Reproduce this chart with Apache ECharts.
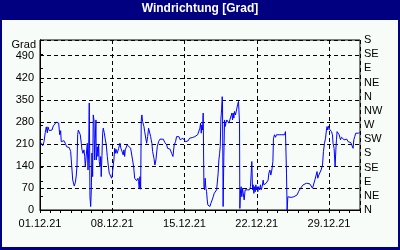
<!DOCTYPE html>
<html><head><meta charset="utf-8">
<script src="https://cdn.jsdelivr.net/npm/echarts@6/dist/echarts.min.js"></script>
<style>html,body{margin:0;padding:0;background:#f8fcf8}#c{width:400px;height:250px}</style>
</head><body><div id="c"></div>
<script>
const titleText = 'Windrichtung [Grad]';
const yAxisName = 'Grad';
const weekLabels = ['01.12.21','08.12.21','15.12.21','22.12.21','29.12.21'];
const compassLabels = ['N','NE','E','SE','S','SW','W','NW','N','NE','E','SE','S'];
// time in days since 01.12.21 00:00
const dayOffsets = [
0.07,0.26,0.39,0.51,0.61,0.71,0.77,0.90,1.04,1.16,
1.29,1.42,1.58,1.67,1.81,1.91,2.00,2.06,2.20,2.32,
2.45,2.58,2.71,2.84,2.97,3.03,3.10,3.17,3.22,3.32,
3.42,3.51,3.58,3.65,3.71,3.80,3.90,4.00,4.07,4.16,
4.26,4.33,4.39,4.48,4.58,4.65,4.71,4.77,4.81,4.84,
4.91,4.97,5.03,5.10,5.16,5.23,5.29,5.35,5.42,5.45,
5.55,5.61,5.68,5.74,5.81,5.88,5.93,6.00,6.07,6.13,
6.22,6.32,6.42,6.52,6.61,6.71,6.84,6.94,7.00,7.10,
7.16,7.23,7.29,7.36,7.48,7.62,7.74,7.84,7.94,8.06,
8.13,8.20,8.26,8.33,8.45,8.55,8.64,8.78,8.91,8.97,
9.07,9.17,9.26,9.36,9.49,9.55,9.61,9.68,9.75,9.81,
9.87,9.94,10.00,10.07,10.14,10.23,10.33,10.43,10.52,10.62,
10.72,10.77,10.84,10.91,11.04,11.13,11.23,11.36,11.49,11.62,
11.78,11.94,12.10,12.27,12.36,12.49,12.61,12.75,12.88,12.94,
13.00,13.13,13.23,13.33,13.46,13.58,13.72,13.84,13.97,14.10,
14.23,14.36,14.49,14.62,14.75,14.88,15.00,15.13,15.27,15.39,
15.49,15.56,15.62,15.68,15.75,15.81,15.88,15.94,16.00,16.07,
16.14,16.20,16.26,16.36,16.46,16.55,16.68,16.78,16.88,17.01,
17.11,17.20,17.26,17.33,17.40,17.46,17.52,17.59,17.65,17.68,
17.74,17.81,17.88,17.94,18.01,18.10,18.20,18.30,18.39,18.49,
18.59,18.65,18.72,18.78,18.84,18.94,19.04,19.14,19.23,19.29,
19.33,19.36,19.43,19.49,19.55,19.62,19.68,19.78,19.87,19.97,
20.07,20.20,20.30,20.39,20.46,20.52,20.59,20.65,20.72,20.78,
20.85,20.91,20.97,21.04,21.10,21.17,21.26,21.36,21.43,21.52,
21.62,21.68,21.78,21.91,22.01,22.10,22.17,22.27,22.36,22.46,
22.56,22.62,22.72,22.81,22.91,23.04,23.17,23.30,23.43,23.56,
23.69,23.78,23.85,23.88,23.94,24.01,24.10,24.20,24.33,24.46,
24.59,24.75,24.91,25.04,25.14,25.24,25.33,25.49,25.65,25.82,
25.97,26.14,26.27,26.40,26.52,26.65,26.75,26.84,26.91,27.01,
27.11,27.23,27.37,27.46,27.56,27.66,27.75,27.81,27.88,27.95,
28.04,28.14,28.24,28.33,28.39,28.49,28.56,28.59,28.66,28.72,
28.78,28.88,28.98,29.11,29.21,29.33,29.46,29.59,29.72,29.85,
29.98,30.11,30.24,30.33,30.40,30.49,30.59,30.72,30.85,30.98
];
const windDirection = [
214,204,217,246,264,245,264,252,254,254,
267,270,279,284,276,239,252,217,223,220,
212,201,201,198,186,159,127,95,98,76,
87,108,138,239,254,257,239,212,191,180,
191,170,138,134,212,127,181,340,191,42,
11,64,181,106,302,286,159,223,286,159,
201,170,207,154,138,170,106,170,244,260,
246,225,207,170,143,117,111,101,111,143,
159,196,180,193,180,196,212,196,191,175,
191,170,191,186,207,212,201,196,191,159,
138,101,95,93,101,90,69,106,66,286,
302,281,286,265,249,254,212,233,260,265,
233,223,212,186,164,143,159,201,217,225,
230,225,214,207,196,191,193,180,170,175,
207,217,233,239,233,223,217,228,233,217,
223,220,228,230,230,225,233,233,239,244,
260,276,244,270,254,308,74,64,101,69,
58,32,16,19,11,21,32,42,53,58,
64,69,117,159,180,201,286,318,360,345,
11,170,286,265,276,286,292,276,286,281,
308,286,308,292,313,302,308,334,345,350,
276,5,64,74,42,69,74,32,64,69,
64,69,64,74,117,154,64,80,53,74,
58,80,64,74,58,74,64,80,64,74,
95,80,85,85,85,95,117,127,111,127,
154,228,239,231,239,233,239,233,239,244,
239,249,244,117,0,42,37,42,40,42,
42,45,48,58,64,69,74,80,82,85,
87,83,85,69,74,98,111,122,101,111,
117,127,143,186,212,228,254,265,254,267,
257,263,249,239,212,196,191,138,191,223,
249,254,239,223,231,228,223,228,225,217,
223,214,212,196,223,233,244,246,244,246
];

const FONT = 'Liberation Sans';
const chart = echarts.init(document.getElementById('c'), null, {renderer: 'canvas'});
chart.setOption({
  animation: false,
  backgroundColor: '#f8fcf8',
  textStyle: {fontFamily: FONT},
  title: {
    text: titleText, left: 'center', top: 3, padding: 0,
    textStyle: {color: '#ffffff', fontSize: 12, fontWeight: 'bold', fontFamily: FONT}
  },
  graphic: [
    {type: 'rect', z: -1, shape: {x: 0, y: 0, width: 400, height: 20}, style: {fill: '#000080'}},
    {type: 'rect', z: -1, shape: {x: 0, y: 0, width: 2, height: 250}, style: {fill: '#000080'}},
    {type: 'rect', z: -1, shape: {x: 398, y: 0, width: 2, height: 250}, style: {fill: '#000080'}},
    {type: 'rect', z: -1, shape: {x: 0, y: 247, width: 400, height: 3}, style: {fill: '#000080'}}
  ],
  grid: {left: 40, right: 40, top: 40, bottom: 40, show: true, borderColor: '#000', borderWidth: 1, backgroundColor: 'transparent'},
  xAxis: [
    {
      type: 'value', min: 0, max: 31, interval: 1, position: 'bottom',
      axisLine: {show: true, lineStyle: {color: '#000', width: 1}},
      axisTick: {show: true, length: 3, lineStyle: {color: '#000'}},
      axisLabel: {show: false},
      splitLine: {show: false}
    },
    {
      type: 'value', min: 0, max: 31, interval: 7, position: 'bottom',
      axisLine: {show: false},
      axisTick: {show: false},
      axisLabel: {
        show: true, color: '#000', fontSize: 11, fontFamily: FONT, margin: 8,
        formatter: v => (v % 7 === 0 && weekLabels[v / 7]) ? weekLabels[v / 7] : ''
      },
      splitLine: {show: true, lineStyle: {color: '#000', type: [4, 3], width: 1}}
    }
  ],
  yAxis: [
    {
      type: 'value', min: 0, max: 540, interval: 70, position: 'left',
      name: yAxisName, nameLocation: 'end', nameGap: -5,
      nameTextStyle: {color: '#000', fontSize: 11, fontFamily: FONT, align: 'right', verticalAlign: 'middle', padding: [0, 4, 0, 0]},
      axisLine: {show: true, lineStyle: {color: '#000'}},
      axisTick: {show: false},
      axisLabel: {color: '#000', fontSize: 11, fontFamily: FONT, margin: 6, formatter: v => v > 500 ? '' : String(v)},
      splitLine: {show: true, lineStyle: {color: '#000', type: [4, 3], width: 1}}
    },
    {
      type: 'value', min: 0, max: 540, interval: 45, position: 'right',
      axisLine: {show: true, lineStyle: {color: '#000'}},
      axisTick: {show: true, length: 3, lineStyle: {color: '#000'}},
      axisLabel: {color: '#000', fontSize: 11, fontFamily: FONT, margin: 4, formatter: v => compassLabels[Math.round(v / 45)] || ''},
      splitLine: {show: false}
    }
  ],
  series: [{
    type: 'line', xAxisIndex: 0, yAxisIndex: 0,
    data: dayOffsets.map((d, i) => [d, windDirection[i]]),
    showSymbol: false, symbol: 'none',
    lineStyle: {color: '#0000ff', width: 1},
    z: 5
  }]
});
</script>
</body></html>
